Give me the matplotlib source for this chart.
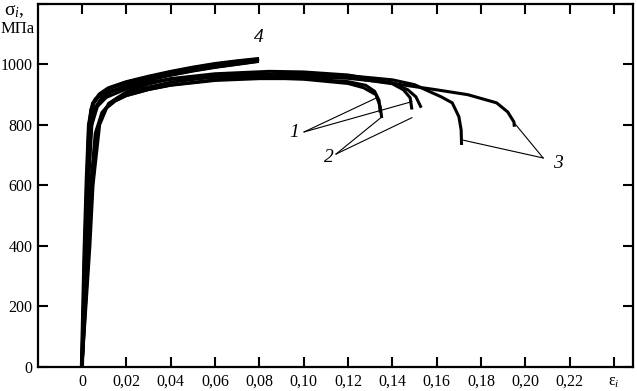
import matplotlib
matplotlib.use("Agg")
import matplotlib.pyplot as plt

plt.rcParams['font.family'] = ['Liberation Serif', 'DejaVu Serif']
plt.rcParams['mathtext.fontset'] = 'custom'
plt.rcParams['mathtext.rm'] = 'Liberation Serif'
plt.rcParams['mathtext.it'] = 'Liberation Serif:italic'

# strain / stress curves
c4a_e = [0, 0.0012, 0.0022, 0.0032, 0.005, 0.008, 0.012, 0.02, 0.03, 0.04, 0.05, 0.06, 0.07, 0.079]
c4a_s = [0, 380, 620, 800, 870, 900, 920, 940, 958, 974, 988, 1000, 1009, 1016]
c4b_e = [0, 0.0016, 0.0028, 0.004, 0.006, 0.009, 0.013, 0.02, 0.03, 0.04, 0.05, 0.06, 0.07, 0.079]
c4b_s = [0, 380, 620, 790, 855, 888, 908, 928, 948, 964, 978, 990, 1000, 1009]

c1a_e = [0, 0.0014, 0.0023, 0.003, 0.004, 0.006, 0.01, 0.02, 0.03, 0.04, 0.06, 0.08, 0.10, 0.12, 0.127, 0.1326, 0.1345, 0.1352]
c1a_s = [0, 400, 600, 780, 850, 885, 905, 925, 940, 950, 956, 956, 950, 936, 922, 899, 860, 822]
c1b_e = [0, 0.002, 0.0032, 0.0045, 0.007, 0.011, 0.02, 0.03, 0.04, 0.06, 0.08, 0.10, 0.12, 0.14, 0.145, 0.148, 0.1488]
c1b_s = [0, 420, 640, 800, 860, 890, 918, 937, 950, 962, 967, 964, 956, 935, 915, 889, 850]

c2a_e = [0, 0.0025, 0.004, 0.006, 0.009, 0.013, 0.02, 0.03, 0.04, 0.06, 0.08, 0.10, 0.12, 0.128, 0.132, 0.134, 0.1345]
c2a_s = [0, 400, 600, 770, 840, 872, 896, 916, 930, 946, 952, 952, 942, 930, 910, 880, 840]
c2b_e = [0, 0.003, 0.0045, 0.0065, 0.01, 0.015, 0.02, 0.03, 0.04, 0.06, 0.08, 0.10, 0.12, 0.14, 0.147, 0.1506, 0.153]
c2b_s = [0, 400, 600, 780, 848, 878, 896, 916, 931, 948, 958, 958, 953, 938, 915, 892, 856]

c3a_e = [0, 0.0032, 0.0048, 0.0072, 0.011, 0.016, 0.02, 0.03, 0.04, 0.06, 0.08, 0.10, 0.12, 0.14, 0.15, 0.155, 0.162, 0.167, 0.170, 0.171, 0.1712]
c3a_s = [0, 400, 600, 790, 858, 888, 902, 924, 940, 958, 966, 967, 962, 948, 932, 915, 892, 872, 826, 783, 733]
c3b_e = [0, 0.0036, 0.005, 0.008, 0.012, 0.02, 0.03, 0.04, 0.06, 0.0845, 0.10, 0.12, 0.144, 0.16, 0.174, 0.187, 0.192, 0.1948, 0.195]
c3b_s = [0, 400, 600, 800, 870, 908, 934, 952, 968, 976, 974, 964, 932, 915, 899, 872, 842, 809, 793]

curves = [(c4a_e, c4a_s), (c4b_e, c4b_s), (c1a_e, c1a_s), (c1b_e, c1b_s),
          (c2a_e, c2a_s), (c2b_e, c2b_s), (c3a_e, c3a_s), (c3b_e, c3b_s)]

x_ticks = [0, 0.02, 0.04, 0.06, 0.08, 0.10, 0.12, 0.14, 0.16, 0.18, 0.20, 0.22, 0.24]
x_labels = ['0', '0,02', '0,04', '0,06', '0,08', '0,10', '0,12', '0,14', '0,16', '0,18', '0,20', '0,22', r'$\mathrm{ε}_i$']
y_ticks = [0, 200, 400, 600, 800, 1000, 1200]
y_labels = ['0', '200', '400', '600', '800', '1000', '']

fig = plt.figure(figsize=(6.37, 3.91), dpi=100)
ax = fig.add_axes([38/637, 24/391, (633-38)/637, (367-3.5)/391])

for e, s in curves:
    ax.plot(e, s, color='black', lw=2.2, solid_capstyle='butt')

# thicker upper curve (4)
ax.plot(c4a_e, c4a_s, color='black', lw=3.0)
ax.plot(c4b_e, c4b_s, color='black', lw=2.6)

# leader lines
lk = dict(color='black', lw=0.8)
ax.plot([0.1002, 0.133], [776, 889], **lk)
ax.plot([0.1002, 0.1488], [776, 876], **lk)
ax.plot([0.1146, 0.1353], [703, 826], **lk)
ax.plot([0.1146, 0.1488], [703, 823], **lk)
ax.plot([0.208, 0.1712], [690, 750], **lk)
ax.plot([0.208, 0.1946], [690, 809], **lk)

tk = dict(fontsize=14, style='italic', ha='center', va='center')
ax.text(0.0957, 773, '1', **tk)
ax.text(0.1115, 690, '2', **tk)
ax.text(0.2148, 673, '3', **tk)
ax.text(0.080, 1088, '4', **tk)

ax.set_xlim(-0.0198, 0.2485)
ax.set_ylim(0, 1200)
ax.set_xticks(x_ticks)
ax.set_xticklabels(x_labels)
ax.set_yticks(y_ticks)
ax.set_yticklabels(y_labels)
ax.tick_params(direction='in', length=7, width=1.5, top=True, right=True,
               labelsize=11.5)
ax.tick_params(axis='x', pad=5)
ax.tick_params(axis='y', pad=4)
for sp in ax.spines.values():
    sp.set_linewidth(1.6)

fig.text(14/637, 1 - 11/391, r'$\mathrm{σ}_i$,', fontsize=14, ha='center', va='center')
fig.text(18/637, 1 - 29/391, 'МПа', fontsize=12, ha='center', va='center')

fig.savefig('out.png', dpi=100)
